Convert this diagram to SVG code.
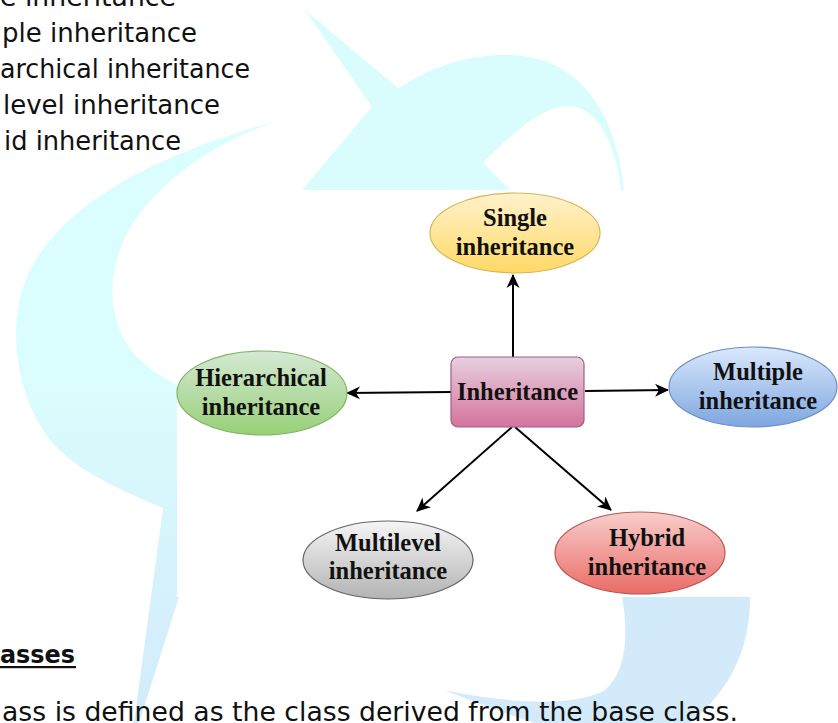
<svg xmlns="http://www.w3.org/2000/svg" width="838" height="723" viewBox="0 0 838 723">
  <defs>
    <style>
      .body { font-family: "DejaVu Sans", Verdana, sans-serif; font-size: 26px; fill: #111; }
      .head { font-family: "DejaVu Sans", Verdana, sans-serif; font-size: 24px; font-weight: bold; fill: #111; }
      .lbl { font-family: "Liberation Serif", "Times New Roman", serif; font-size: 24.5px; font-weight: bold; fill: #111; text-anchor: middle; }
      .edge { fill: none; stroke: #000; stroke-width: 2; }
    </style>
    <linearGradient id="wmTail" x1="0" y1="380" x2="0" y2="723" gradientUnits="userSpaceOnUse">
      <stop offset="0" stop-color="#dafdfd"/>
      <stop offset="1" stop-color="#d2eafa"/>
    </linearGradient>
    <linearGradient id="gYellow" x1="0" y1="0" x2="0" y2="1">
      <stop offset="0" stop-color="#fff2cc"/>
      <stop offset="1" stop-color="#ffd966"/>
    </linearGradient>
    <linearGradient id="gGreen" x1="0" y1="0" x2="0" y2="1">
      <stop offset="0" stop-color="#d5e8d4"/>
      <stop offset="1" stop-color="#97d077"/>
    </linearGradient>
    <linearGradient id="gPink" x1="0" y1="0" x2="0" y2="1">
      <stop offset="0" stop-color="#e6d0de"/>
      <stop offset="1" stop-color="#d5739d"/>
    </linearGradient>
    <linearGradient id="gBlue" x1="0" y1="0" x2="0" y2="1">
      <stop offset="0" stop-color="#dae8fc"/>
      <stop offset="1" stop-color="#7ea6e0"/>
    </linearGradient>
    <linearGradient id="gGrey" x1="0" y1="0" x2="0" y2="1">
      <stop offset="0" stop-color="#f5f5f5"/>
      <stop offset="1" stop-color="#b3b3b3"/>
    </linearGradient>
    <linearGradient id="gRed" x1="0" y1="0" x2="0" y2="1">
      <stop offset="0" stop-color="#f8cecc"/>
      <stop offset="1" stop-color="#ea6b66"/>
    </linearGradient>
    <marker id="arrow" viewBox="0 0 14 14" refX="13" refY="7" markerWidth="14" markerHeight="14" markerUnits="userSpaceOnUse" orient="auto">
      <path d="M0,0.5 L14,7 L0,13.5 L4,7 Z" fill="#000"/>
    </marker>
  </defs>

  <rect width="838" height="723" fill="#ffffff"/>

  <!-- pale swoosh behind the page -->
  <g id="watermark">
    <path fill="#d9fdfd" d="M305,10 L398,88 C440,62 475,54 510,55 C570,56 615,100 624,190 L621,190 C617,150 600,108 570,106 C545,105 515,130 483,163 L510,190 L302,190 L372,107 Z"/>
    <path fill="url(#wmTail)" d="M287,118 C230,135 170,170 135,220 C105,265 105,320 135,355 C155,375 180,390 220,400 L220,597 L179,597 L139,723 L134,723 L163,508 C120,490 75,470 50,440 C15,395 5,320 30,270 C70,195 170,150 287,118 Z"/>
    <path fill="#d3eafb" d="M622,597 L750,597 C750,650 730,690 690,723 L535,723 C500,712 470,700 444,690 C520,706 580,705 605,690 C628,670 628,630 622,597 Z"/>
  </g>

  <!-- page text -->
  <g id="page-text">
    <text class="body" x="0" y="6" textLength="176" lengthAdjust="spacingAndGlyphs">e inheritance</text>
    <text class="body" x="2" y="42" textLength="195" lengthAdjust="spacingAndGlyphs">ple inheritance</text>
    <text class="body" x="0" y="78" textLength="250" lengthAdjust="spacingAndGlyphs">archical inheritance</text>
    <text class="body" x="3" y="114" textLength="217" lengthAdjust="spacingAndGlyphs">level inheritance</text>
    <text class="body" x="4" y="150" textLength="177" lengthAdjust="spacingAndGlyphs">id inheritance</text>
    <text class="head" x="0" y="663" textLength="75" lengthAdjust="spacingAndGlyphs">asses</text>
    <rect x="0" y="666" width="76" height="2.2" fill="#111"/>
    <text class="body" x="2" y="721" textLength="736" lengthAdjust="spacingAndGlyphs">ass is defined as the class derived from the base class.</text>
  </g>

  <!-- diagram canvas -->
  <rect x="177" y="190" width="661" height="407" fill="#ffffff"/>

  <g id="connectors">
    <path class="edge" d="M513,357 L513,275" marker-end="url(#arrow)"/>
    <path class="edge" d="M451,392 L347,393" marker-end="url(#arrow)"/>
    <path class="edge" d="M585,391 L668,390" marker-end="url(#arrow)"/>
    <path class="edge" d="M512,427 L417,511" marker-end="url(#arrow)"/>
    <path class="edge" d="M515,427 L611,510" marker-end="url(#arrow)"/>
  </g>

  <g id="node-inheritance">
    <rect x="451" y="357" width="133" height="70" rx="7" fill="url(#gPink)" stroke="#996185" stroke-width="1.2"/>
    <text class="lbl" x="517.5" y="400">Inheritance</text>
  </g>

  <g id="node-single">
    <ellipse cx="515" cy="233" rx="85" ry="40" fill="url(#gYellow)" stroke="#d6b656" stroke-width="1.2"/>
    <text class="lbl" x="515" y="226">Single</text>
    <text class="lbl" x="515" y="255">inheritance</text>
  </g>

  <g id="node-hierarchical">
    <ellipse cx="262" cy="393" rx="85" ry="42" fill="url(#gGreen)" stroke="#82b366" stroke-width="1.2"/>
    <text class="lbl" x="261" y="386">Hierarchical</text>
    <text class="lbl" x="261" y="415">inheritance</text>
  </g>

  <g id="node-multiple">
    <ellipse cx="753" cy="387" rx="84" ry="40" fill="url(#gBlue)" stroke="#6c8ebf" stroke-width="1.2"/>
    <text class="lbl" x="758" y="380">Multiple</text>
    <text class="lbl" x="758" y="409">inheritance</text>
  </g>

  <g id="node-multilevel">
    <ellipse cx="388" cy="560" rx="85" ry="39" fill="url(#gGrey)" stroke="#666666" stroke-width="1.2"/>
    <text class="lbl" x="388" y="551">Multilevel</text>
    <text class="lbl" x="388" y="579">inheritance</text>
  </g>

  <g id="node-hybrid">
    <ellipse cx="640" cy="553" rx="85" ry="41" fill="url(#gRed)" stroke="#b85450" stroke-width="1.2"/>
    <text class="lbl" x="647" y="546">Hybrid</text>
    <text class="lbl" x="647" y="575">inheritance</text>
  </g>
</svg>
